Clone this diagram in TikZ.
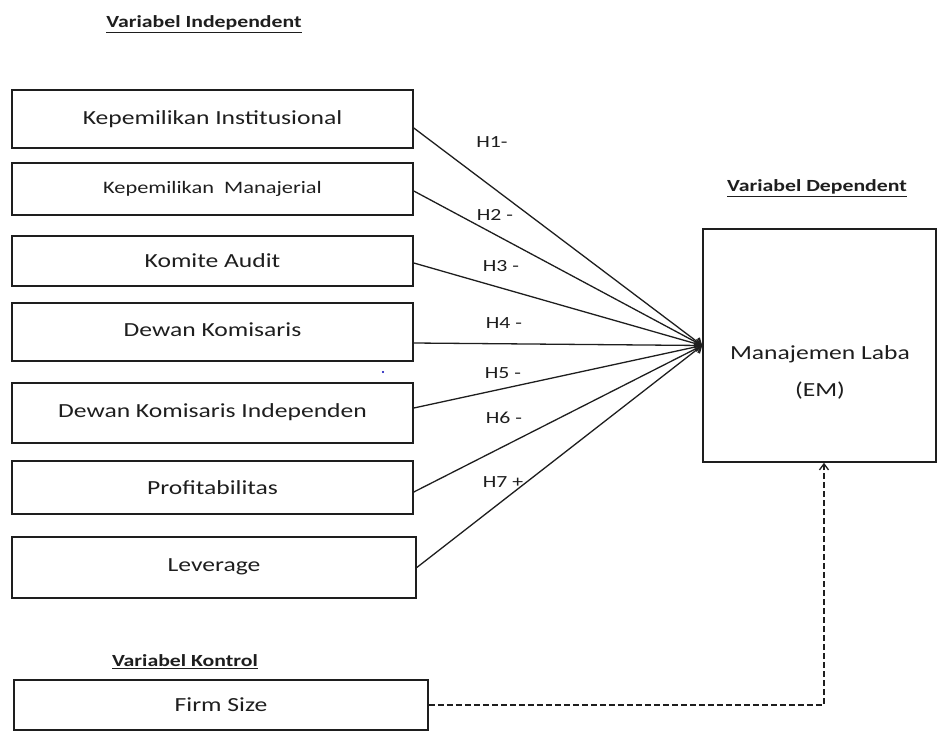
\documentclass[tikz,border=0pt]{standalone}
\usepackage{fontspec}
\setmainfont[FakeStretch=1.28]{Carlito}
\usetikzlibrary{arrows.meta}
\definecolor{ink}{HTML}{1E1E1E}
\begin{document}
\begin{tikzpicture}[x=1pt,y=-1pt,
  varbox/.style={draw=ink,line width=1.6pt,rectangle,inner sep=0pt,minimum width=401pt,text=ink,font=\fontsize{20}{24}\selectfont},
  title/.style={text=ink,font=\bfseries\fontsize{17}{20}\selectfont,inner sep=0pt},
  hlab/.style={text=ink,font=\fontsize{17}{20}\selectfont,inner sep=0pt},
  link/.style={draw=ink,line width=1.3pt,-{Straight Barb[length=6pt,width=9pt]}},
  ctrl/.style={draw=ink,line width=1.3pt,dash pattern=on 6pt off 3pt,-{Straight Barb[length=6pt,width=9pt]}}]
\useasboundingbox (0,0) rectangle (937,731);

\node[title] (tind) at (204,24) {\underline{Variabel Independent}};
\node[title] (tdep) at (817,188) {\underline{Variabel Dependent}};
\node[title] (tkon) at (185,662) {\underline{Variabel Kontrol}};

\node[varbox,minimum height=58pt] (k1) at (212.5,119) {Kepemilikan Institusional};
\node[varbox,minimum height=52pt,font=\fontsize{17.5}{21}\selectfont] (k2) at (212.5,189) {Kepemilikan\ \ Manajerial};
\node[varbox,minimum height=50pt] (k3) at (212.5,261) {Komite Audit};
\node[varbox,minimum height=58pt] (k4) at (212.5,332) {\raisebox{5pt}{Dewan Komisaris}};
\node[varbox,minimum height=60pt] (k5) at (212.5,413) {\raisebox{4pt}{Dewan Komisaris Independen}};
\node[varbox,minimum height=53pt] (k6) at (212.5,487.5) {Profitabilitas};
\node[varbox,minimum height=61pt,minimum width=404pt] (k7) at (214,567.5) {\raisebox{4pt}{Leverage}};

\node[varbox,minimum height=50pt,minimum width=414pt] (firm) at (221,705) {Firm Size};

\node[draw=ink,line width=1.6pt,rectangle,inner sep=0pt,minimum width=233pt,minimum height=233pt] (em) at (819.5,345.5) {};
\node[text=ink,font=\fontsize{20}{37}\selectfont,align=center,inner sep=0pt] (emtxt) at (820,372) {Manajemen Laba\\(EM)};

\draw[link] ([yshift=-9pt]k1.east) -- (em.west);
\draw[link] ([yshift=-2pt]k2.east) -- (em.west);
\draw[link] ([yshift=-2pt]k3.east) -- (em.west);
\draw[link] ([yshift=-11pt]k4.east) -- (em.west);
\draw[link] ([yshift=5pt]k5.east) -- (em.west);
\draw[link] ([yshift=-4.5pt]k6.east) -- (em.west);
\draw[link] (k7.east) -- (em.west);

\node[hlab] (h1) at (492,142) {H1-};
\node[hlab] (h2) at (495,215) {H2 -};
\node[hlab] (h3) at (501,266) {H3 -};
\node[hlab] (h4) at (504,323) {H4 -};
\node[hlab] (h5) at (503,373) {H5 -};
\node[hlab] (h6) at (504,418) {H6 -};
\node[hlab] (h7) at (503,482) {H7 +};

\draw[ctrl] (firm.east) -| ([xshift=4.5pt]em.south);

\fill[blue!70!black] (383,372) circle (1.1pt);
\end{tikzpicture}
\end{document}
